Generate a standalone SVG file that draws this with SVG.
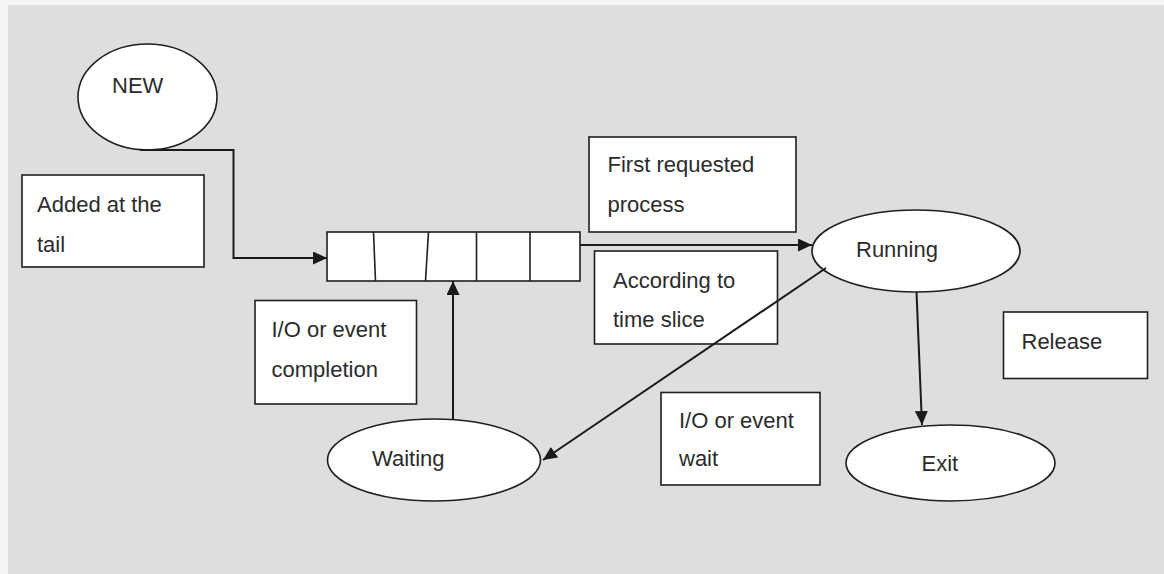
<svg xmlns="http://www.w3.org/2000/svg" width="1164" height="574" viewBox="0 0 1164 574">
  <style>
    .lbl { font-family: "Liberation Sans", Arial, sans-serif; font-size: 22px; fill: #2b2b2b; }
    .box { fill: #ffffff; stroke: #1f1f1f; stroke-width: 1.6; }
    .state { fill: #ffffff; stroke: #1f1f1f; stroke-width: 1.6; }
    .cell { fill: none; stroke: #1f1f1f; stroke-width: 1.6; }
    .wire { fill: none; stroke: #1a1a1a; stroke-width: 2; }
  </style>
  <defs>
    <marker id="head" markerUnits="userSpaceOnUse" markerWidth="15" markerHeight="13" refX="14" refY="6.5" orient="auto">
      <path d="M0,0 L14,6.5 L0,13 Z" fill="#1a1a1a"/>
    </marker>
  </defs>

  <!-- page -->
  <rect x="0" y="0" width="1164" height="574" fill="#f4f4f4"/>
  <rect x="8" y="5" width="1156" height="569" fill="#dedede"/>

  <!-- states -->
  <g id="new">
    <ellipse class="state" cx="147.5" cy="97" rx="69.5" ry="53"/>
    <text class="lbl" x="112" y="93">NEW</text>
  </g>

  <g id="ready-queue">
    <rect class="box" x="327" y="232" width="253" height="49"/>
    <line class="cell" x1="373.5" y1="232" x2="375.5" y2="281"/>
    <line class="cell" x1="428.5" y1="232" x2="425.5" y2="281"/>
    <line class="cell" x1="476.5" y1="232" x2="476.5" y2="281"/>
    <line class="cell" x1="530" y1="232" x2="530" y2="281"/>
  </g>

  <g id="running">
    <ellipse class="state" cx="916" cy="251" rx="104" ry="41"/>
    <text class="lbl" x="856" y="257">Running</text>
  </g>

  <g id="waiting">
    <ellipse class="state" cx="434" cy="460" rx="106.5" ry="41"/>
    <text class="lbl" x="372" y="465.5">Waiting</text>
  </g>

  <g id="exit">
    <ellipse class="state" cx="950.5" cy="463" rx="104.5" ry="38"/>
    <text class="lbl" x="921.5" y="470.5">Exit</text>
  </g>

  <!-- transition notes -->
  <g id="note-tail">
    <rect class="box" x="22" y="175" width="182" height="92"/>
    <text class="lbl" x="37" y="212">Added at the</text>
    <text class="lbl" x="37" y="252">tail</text>
  </g>

  <g id="note-first">
    <rect class="box" x="589" y="137" width="207" height="95"/>
    <text class="lbl" x="607.5" y="172">First requested</text>
    <text class="lbl" x="607.5" y="212">process</text>
  </g>

  <g id="note-slice">
    <rect class="box" x="594.5" y="251" width="183" height="93"/>
    <text class="lbl" x="613" y="288">According to</text>
    <text class="lbl" x="613" y="327">time slice</text>
  </g>

  <g id="note-completion">
    <rect class="box" x="255" y="300.5" width="161.5" height="103.5"/>
    <text class="lbl" x="271.5" y="337">I/O or event</text>
    <text class="lbl" x="271.5" y="377">completion</text>
  </g>

  <g id="note-wait">
    <rect class="box" x="661" y="392.5" width="159" height="92.5"/>
    <text class="lbl" x="679" y="428">I/O or event</text>
    <text class="lbl" x="679" y="466">wait</text>
  </g>

  <g id="note-release">
    <rect class="box" x="1003.5" y="312" width="144" height="66.5"/>
    <text class="lbl" x="1021.5" y="349">Release</text>
  </g>

  <!-- connectors, drawn over the notes they cross -->
  <g id="connectors">
    <polyline class="wire" points="140,150 233.5,150 233.5,258 327,258" marker-end="url(#head)"/>
    <line class="wire" x1="580" y1="245" x2="812" y2="245" marker-end="url(#head)"/>
    <line class="wire" x1="826" y1="268" x2="543" y2="460" marker-end="url(#head)"/>
    <line class="wire" x1="453" y1="419" x2="453" y2="281" marker-end="url(#head)"/>
    <line class="wire" x1="916.5" y1="292" x2="922" y2="425" marker-end="url(#head)"/>
  </g>
</svg>
